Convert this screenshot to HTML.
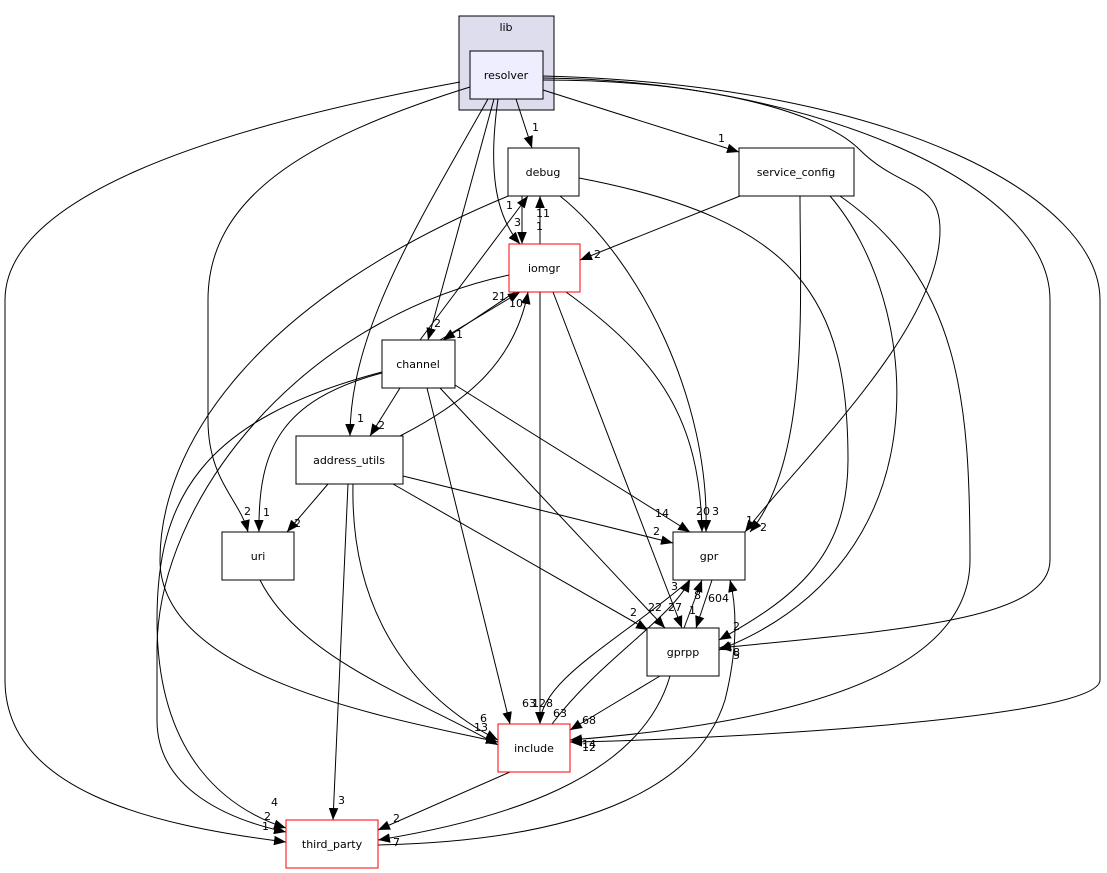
<!DOCTYPE html>
<html><head><meta charset="utf-8"><style>
html,body{margin:0;padding:0;background:#fff}
svg{display:block}
text{font-family:"DejaVu Sans","Liberation Sans",sans-serif;font-size:11px;fill:#000}
.e{fill:none;stroke:#000;stroke-width:1}
</style></head><body>
<svg width="1107" height="873" viewBox="0 0 1107 873" xmlns="http://www.w3.org/2000/svg">
<defs><marker id="a" viewBox="0 0 10 10" refX="10" refY="5" markerWidth="12" markerHeight="12" markerUnits="userSpaceOnUse" orient="auto"><path d="M0,1 L10,5 L0,9 z" fill="#000"/></marker></defs>
<rect x="459" y="16" width="95" height="94" fill="#ddddee" stroke="#000"/>
<text x="506" y="31" text-anchor="middle">lib</text>
<g class="e" marker-end="url(#a)">
<path d="M516,99 L532,148"/>
<path d="M543,90 L739,152"/>
<path d="M498,99 C488,170 495,215 520,244"/>
<path d="M494,99 L428,340"/>
<path d="M488,99 C420,220 350,330 350,436"/>
<path d="M470,87 C300,140 208,200 208,300 L208,420 C208,480 240,500 248,532"/>
<path d="M460,82 C200,130 5,200 5,300 L5,680 C5,790 150,825 286,842"/>
<path d="M543,80 C700,80 820,110 860,150 C900,190 940,180 940,230 C940,330 800,460 745,532"/>
<path d="M543,78 C800,80 1050,180 1050,300 L1050,560 C1050,620 900,630 719,648"/>
<path d="M543,76 C900,85 1100,200 1100,300 L1100,680 C1100,720 700,740 570,742"/>
<path d="M522,196 L522,244"/>
<path d="M540,244 L540,196"/>
<path d="M560,196 C640,260 710,400 706,532"/>
<path d="M579,178 C800,220 848,300 848,460 C848,560 790,600 719,640"/>
<path d="M518,192 C250,300 160,450 160,560 C160,680 400,720 498,742"/>
<path d="M420,340 L528,196"/>
<path d="M440,340 L520,292"/>
<path d="M515,292 L443,340"/>
<path d="M400,436 C470,400 515,360 528,292"/>
<path d="M509,275 C300,320 157,500 157,650 L157,720 C157,790 230,820 286,832"/>
<path d="M540,292 L540,724"/>
<path d="M566,292 C660,360 700,420 702,532"/>
<path d="M553,292 L682,628"/>
<path d="M740,196 L580,260"/>
<path d="M800,196 C800,300 810,460 750,532"/>
<path d="M830,196 C920,300 950,560 719,650"/>
<path d="M840,196 C960,280 970,400 970,560 C970,700 700,730 570,740"/>
<path d="M400,388 L370,436"/>
<path d="M382,373 C280,400 258,450 259,532"/>
<path d="M382,372 C200,420 157,500 157,620 C157,760 230,810 286,828"/>
<path d="M427,388 L510,724"/>
<path d="M455,385 L690,532"/>
<path d="M440,388 L665,628"/>
<path d="M328,484 L287,532"/>
<path d="M403,476 L673,543"/>
<path d="M393,484 L648,630"/>
<path d="M353,484 C350,620 420,700 498,740"/>
<path d="M348,484 L333,820"/>
<path d="M260,580 C300,660 420,700 498,745"/>
<path d="M690,580 C620,640 540,680 540,724"/>
<path d="M552,724 C600,660 670,620 690,580"/>
<path d="M684,628 L702,580"/>
<path d="M712,580 L696,628"/>
<path d="M660,676 L570,730"/>
<path d="M670,676 C640,780 500,820 378,840"/>
<path d="M510,772 L378,830"/>
<path d="M378,845 C600,840 700,780 725,700 C740,640 735,600 730,580"/>
</g>
<g>
<rect x="470" y="51" width="73" height="48" fill="#eeeeff" stroke="#000"/><text x="506" y="79" text-anchor="middle">resolver</text>
<rect x="508" y="148" width="71" height="48" fill="#fff" stroke="#000"/><text x="543" y="176" text-anchor="middle">debug</text>
<rect x="739" y="148" width="115" height="48" fill="#fff" stroke="#000"/><text x="796" y="176" text-anchor="middle">service_config</text>
<rect x="509" y="244" width="71" height="48" fill="#fff" stroke="#f00"/><text x="544" y="272" text-anchor="middle">iomgr</text>
<rect x="382" y="340" width="73" height="48" fill="#fff" stroke="#000"/><text x="418" y="368" text-anchor="middle">channel</text>
<rect x="296" y="436" width="107" height="48" fill="#fff" stroke="#000"/><text x="349" y="464" text-anchor="middle">address_utils</text>
<rect x="222" y="532" width="72" height="48" fill="#fff" stroke="#000"/><text x="258" y="560" text-anchor="middle">uri</text>
<rect x="673" y="532" width="72" height="48" fill="#fff" stroke="#000"/><text x="709" y="560" text-anchor="middle">gpr</text>
<rect x="647" y="628" width="72" height="48" fill="#fff" stroke="#000"/><text x="683" y="656" text-anchor="middle">gprpp</text>
<rect x="498" y="724" width="72" height="48" fill="#fff" stroke="#f00"/><text x="534" y="752" text-anchor="middle">include</text>
<rect x="286" y="820" width="92" height="48" fill="#fff" stroke="#f00"/><text x="332" y="848" text-anchor="middle">third_party</text>
</g>
<g>
<text x="532" y="131">1</text><text x="718" y="142">1</text><text x="514" y="226">3</text>
<text x="434" y="327">2</text><text x="357" y="422">1</text><text x="244" y="515">2</text>
<text x="264" y="820">2</text><text x="262" y="830">1</text><text x="760" y="531">2</text>
<text x="733" y="656">8</text><text x="582" y="748">14</text><text x="582" y="751">12</text>
<text x="506" y="209">1</text><text x="536" y="230">1</text><text x="536" y="217">11</text>
<text x="712" y="515">3</text><text x="733" y="630">2</text><text x="492" y="300">21</text>
<text x="456" y="338">1</text><text x="509" y="307">10</text><text x="271" y="806">4</text>
<text x="522" y="707">63</text><text x="696" y="515">20</text><text x="668" y="611">27</text>
<text x="594" y="258">2</text><text x="746" y="524">1</text><text x="378" y="429">2</text>
<text x="263" y="516">1</text><text x="480" y="722">6</text><text x="655" y="517">14</text>
<text x="648" y="611">22</text><text x="294" y="527">2</text><text x="653" y="535">2</text>
<text x="630" y="616">2</text><text x="474" y="731">13</text><text x="338" y="804">3</text>
<text x="532" y="707">128</text><text x="671" y="590">3</text><text x="694" y="599">8</text>
<text x="689" y="614">1</text><text x="582" y="724">68</text><text x="393" y="822">2</text>
<text x="393" y="846">7</text><text x="708" y="602">604</text><text x="733" y="659">5</text>
<text x="553" y="717">63</text>
</g>
</svg>
</body></html>
